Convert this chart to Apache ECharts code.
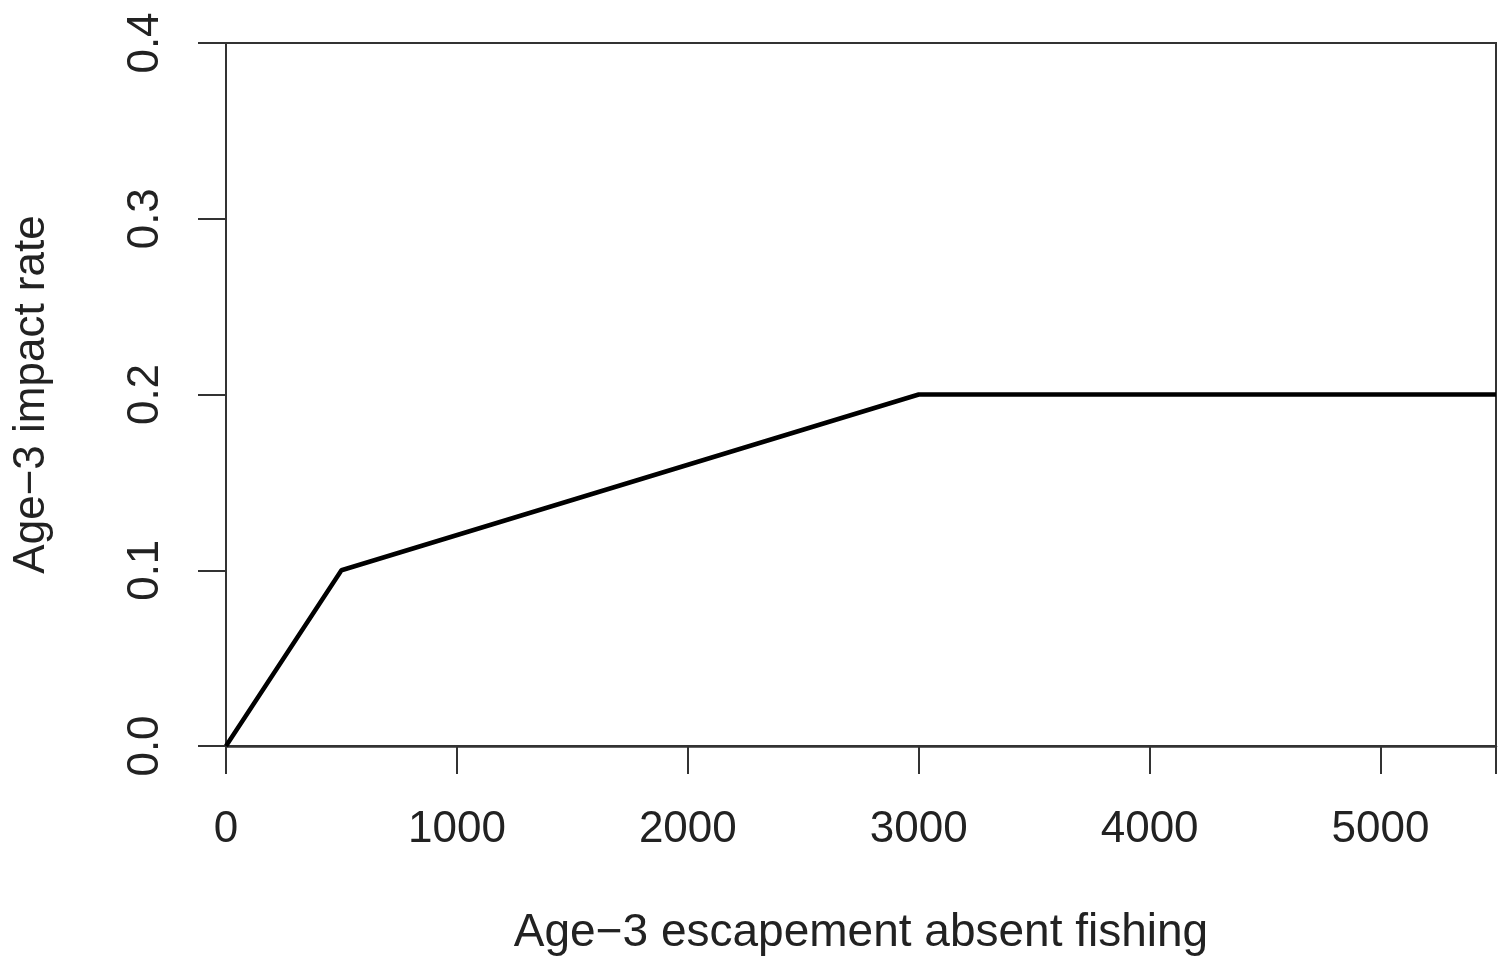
<!DOCTYPE html>
<html>
<head>
<meta charset="utf-8">
<script src="https://cdn.jsdelivr.net/npm/echarts@6/dist/echarts.min.js"></script>
<style>
html,body{margin:0;padding:0;background:#fff;}
#chart{width:1501px;height:958px;}
</style>
</head>
<body>
<div id="chart"></div>
<script>
const escapement = [0, 500, 3000, 5500];
const impactRate = [0, 0.1, 0.2, 0.2];
const xTicks = [0, 1000, 2000, 3000, 4000, 5000];
const yTicks = [0.0, 0.1, 0.2, 0.3, 0.4];
const xTitle = 'Age\u22123 escapement absent fishing';
const yTitle = 'Age\u22123 impact rate';

const font = '"Liberation Sans", Arial, sans-serif';
const chart = echarts.init(document.getElementById('chart'));
chart.setOption({
  animation: false,
  backgroundColor: '#fff',
  grid: {left: 226, right: 5, top: 43, bottom: 212, show: true, borderColor: '#333', borderWidth: 2,
    backgroundColor: 'transparent', containLabel: false, outerBoundsMode: 'none'},
  xAxis: {
    type: 'value', min: 0, max: 5500, interval: 1000,
    name: xTitle, nameLocation: 'middle', nameGap: 164,
    nameTextStyle: {fontFamily: font, fontSize: 46, color: '#222'},
    axisLine: {show: true, onZero: false, lineStyle: {color: '#333', width: 2.5}},
    axisTick: {show: true, length: 28, lineStyle: {color: '#333', width: 2}},
    axisLabel: {fontFamily: font, fontSize: 44, color: '#222', margin: 62,
      formatter: v => xTicks.includes(v) ? String(v) : ''},
    splitLine: {show: false}
  },
  yAxis: {
    type: 'value', min: 0, max: 0.4, interval: 0.1,
    name: yTitle, nameLocation: 'middle', nameGap: 172,
    nameTextStyle: {fontFamily: font, fontSize: 44, color: '#222'},
    axisLine: {show: true, lineStyle: {color: '#333', width: 2}},
    axisTick: {show: true, length: 28, lineStyle: {color: '#333', width: 2}},
    axisLabel: {fontFamily: font, fontSize: 44, color: '#222', margin: 58, rotate: 90,
      formatter: v => yTicks.some(t => Math.abs(t - v) < 1e-9) ? v.toFixed(1) : ''},
    splitLine: {show: false}
  },
  series: [{
    type: 'line',
    data: escapement.map((x, i) => [x, impactRate[i]]),
    symbol: 'none',
    lineStyle: {color: '#000', width: 4.5},
    clip: true
  }]
});
</script>
</body>
</html>
